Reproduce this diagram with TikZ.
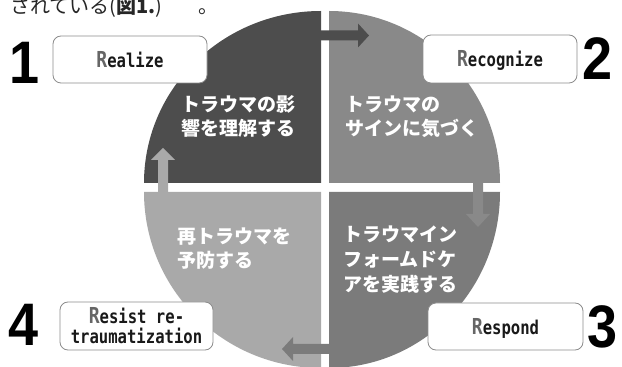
\documentclass[tikz,border=0pt]{standalone}
\usepackage{fontspec}
\setmainfont{DejaVu Sans}
\newfontfamily\jp{Noto Sans CJK JP}
\newfontfamily\boxfont[FakeStretch=0.82]{DejaVu Sans Mono}
\newfontfamily\numfont[FakeStretch=0.9]{Liberation Sans}
\definecolor{qtl}{HTML}{4D4D4D}
\definecolor{qtr}{HTML}{898989}
\definecolor{qbr}{HTML}{7B7B7B}
\definecolor{qbl}{HTML}{A9A9A9}
\definecolor{rgray}{HTML}{666666}
\definecolor{boxline}{HTML}{8C8C8C}
\newcommand{\rword}[2]{{\fontsize{22}{22}\selectfont\color{rgray}#1}#2}
\tikzset{
  labelbox/.style={draw=boxline, line width=0.8pt, fill=white, rounded corners=8pt,
    inner sep=0pt, font=\boxfont\bfseries\fontsize{19}{20}\selectfont, text=black!90},
  quadtext/.style={text=white, font=\jp\bfseries\fontsize{19}{24}\selectfont,
    align=left, inner sep=0pt, anchor=west},
  bignum/.style={font=\numfont\bfseries\fontsize{60}{60}\selectfont, inner sep=0pt, text=black},
}
\begin{document}
\begin{tikzpicture}[x=1pt,y=1pt]
\useasboundingbox (0,0) rectangle (622,367);
\clip (0,0) rectangle (622,367);
\fill[white] (0,0) rectangle (622,367);
% quadrants
\fill[qtl] (321,184) -- (144,184) arc[start angle=180,end angle=90,x radius=177,y radius=172] -- cycle;
\fill[qtr] (329,184) -- (329,356) arc[start angle=90,end angle=0,x radius=171,y radius=172] -- cycle;
\fill[qbr] (329,175) -- (500,175) arc[start angle=0,end angle=-90,x radius=171,y radius=176] -- cycle;
\fill[qbl] (321,175) -- (321,-1) arc[start angle=270,end angle=180,x radius=177,y radius=176] -- cycle;
% arrows
\fill[qtl] (315,336.5) -- (358,336.5) -- (358,343.5) -- (369,331.5) -- (358,319.5) -- (358,326.5) -- (315,326.5) -- cycle;
\fill[qtr] (473,190) -- (473,153) -- (466,153) -- (478,140) -- (490,153) -- (483,153) -- (483,190) -- cycle;
\fill[qbr] (335,23) -- (293,23) -- (293,30) -- (282,18) -- (293,6) -- (293,13) -- (335,13) -- cycle;
\fill[qbl] (158,170) -- (158,207) -- (151,207) -- (163,219) -- (175,207) -- (168,207) -- (168,170) -- cycle;
% quadrant texts
\node[quadtext] (tl) at (181,250.5) {トラウマの影\\響を理解する};
\node[quadtext] (tr) at (345,250.5) {トラウマの\\サインに気づく};
\node[quadtext, font=\jp\bfseries\fontsize{19}{25}\selectfont] (br) at (343,107) {トラウマイン\\フォームドケ\\アを実践する};
\node[quadtext] (bl) at (177,118) {再トラウマを\\予防する};
% label boxes
\node[labelbox, minimum width=154pt, minimum height=47pt, text height=16pt, text depth=0pt] (realize) at (130,307.5) {\rword{R}{ealize}};
\node[labelbox, minimum width=154pt, minimum height=48pt, text height=16pt, text depth=0pt] (recognize) at (500,308) {\rword{R}{ecognize}};
\node[labelbox, minimum width=155pt, minimum height=47pt, text height=16pt, text depth=0pt] (respond) at (505.5,40.5) {\rword{R}{espond}};
\node[labelbox, minimum width=153pt, minimum height=48pt, align=center] (resist) at (136.5,41) {\rword{R}{esist re-}\\traumatization};
% numbers
\node[bignum] (n1) at (25,304.5) {1};
\node[bignum] (n2) at (597.5,308.5) {2};
\node[bignum] (n3) at (602.5,40.5) {3};
\node[bignum] (n4) at (23.5,42) {4};
% cut-off body text line
\node[anchor=base west, inner sep=0pt, font=\jp\fontsize{20}{20}\selectfont, text=black!85] (body) at (10,353.5) {されている(\textbf{図1.})\hspace*{36pt}。};
\end{tikzpicture}
\end{document}
